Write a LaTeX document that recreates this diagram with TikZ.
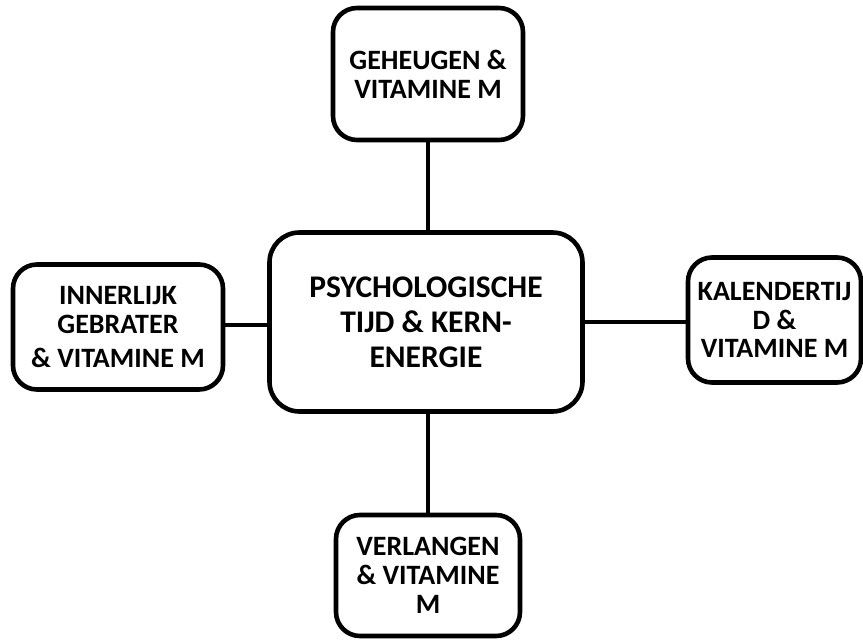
\documentclass[tikz,border=0pt]{standalone}
\usepackage{fontspec}
\setmainfont{Carlito}
\begin{document}
\begin{tikzpicture}[x=1pt,y=-1pt,
  topic/.style={draw=black, line width=4.6pt, rounded corners=24pt, fill=white,
    inner sep=0pt, align=center, text=black,
    font=\fontsize{28}{28.8}\selectfont\bfseries},
  hub/.style={topic, rounded corners=30pt,
    font=\fontsize{31.5}{35}\selectfont\bfseries},
  link/.style={line width=4.6pt, draw=black}]
\useasboundingbox (0,0) rectangle (863,641);
\fill[white] (0,0) rectangle (863,641);

% central topic
\node[hub, minimum width=313pt, minimum height=179pt] (core) at (426,322)
  {PSYCHOLOGISCHE\\TIJD \& KERN-\\ENERGIE};

% surrounding topics
\node[topic, minimum width=190pt, minimum height=132pt] (mem) at (428,74)
  {GEHEUGEN \&\\VITAMINE M};
\node[topic, minimum width=210pt, minimum height=125pt] (inner) at (118,327)
  {INNERLIJK\\GEBRATER\\[5pt]\& VITAMINE M};
\node[topic, minimum width=173pt, minimum height=125pt] (cal) at (774.5,320)
  {KALENDERTIJ\\D \&\\VITAMINE M};
\node[topic, minimum width=184pt, minimum height=121pt] (desire) at (428,575.5)
  {VERLANGEN\\\& VITAMINE\\M};

% connectors
\draw[link] (core.north -| mem.south) -- (mem.south);
\draw[link] (core.south -| desire.north) -- (desire.north);
\coordinate (lj) at (inner.east |- 0,325);
\draw[link] (lj) -- (core.west |- lj);
\coordinate (rj) at (cal.west |- 0,322);
\draw[link] (core.east |- rj) -- (rj);
\end{tikzpicture}
\end{document}
